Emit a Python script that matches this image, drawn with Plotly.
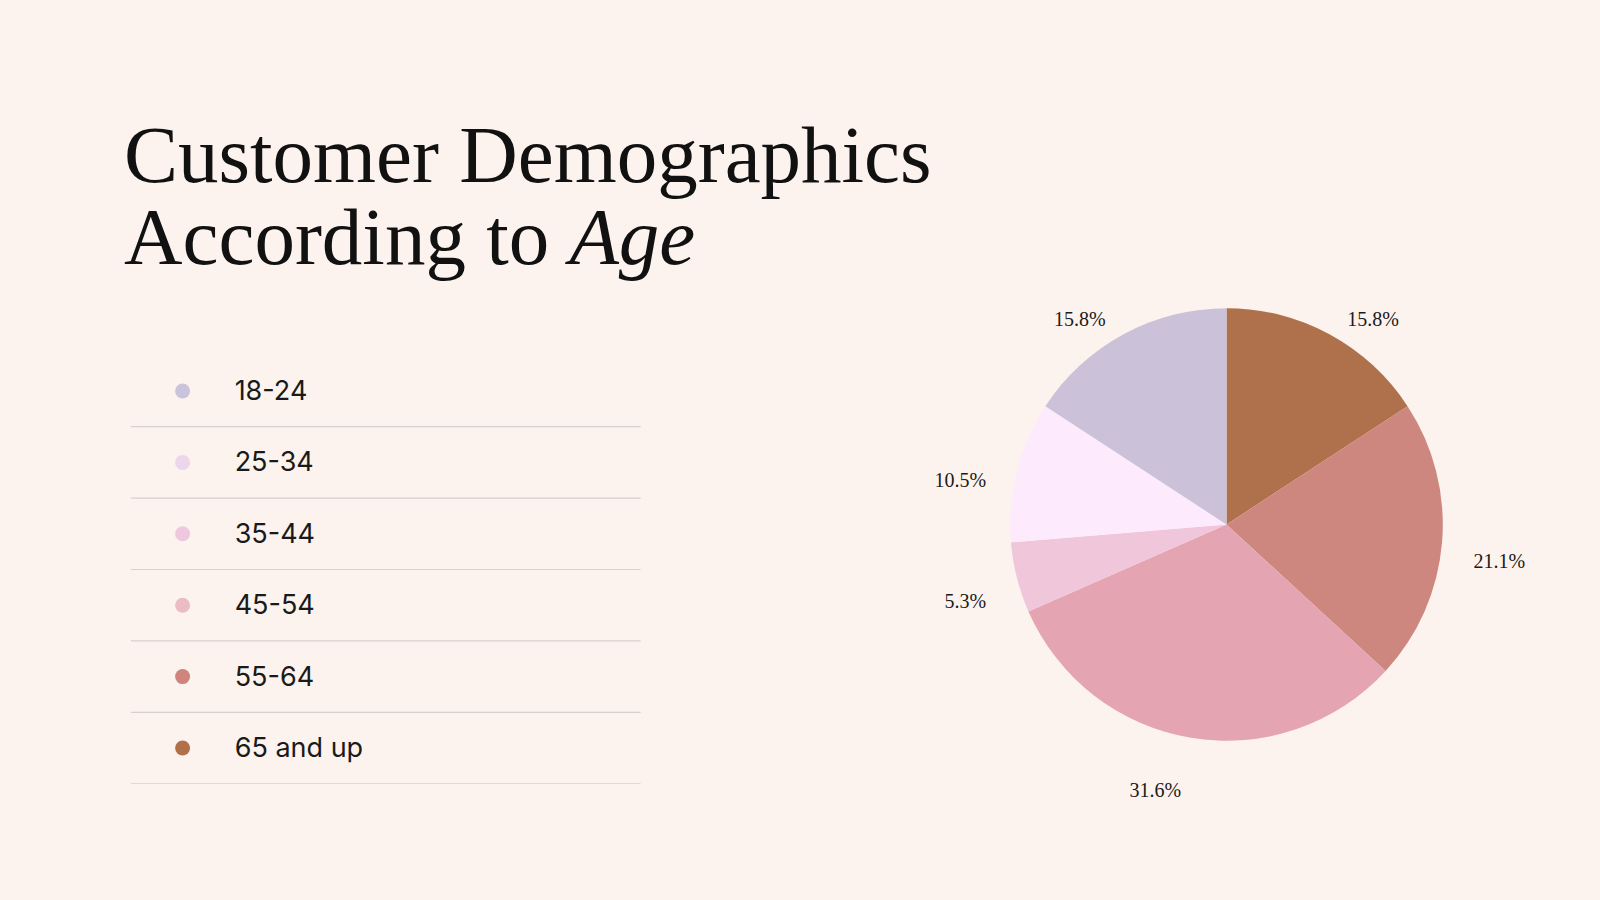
import plotly.graph_objects as go

# ---- data ----
age_groups = ["18-24", "25-34", "35-44", "45-54", "55-64", "65 and up"]
customers = [3, 2, 1, 6, 4, 3]
pie_colors = ["#CBC1D8", "#FDEAFD", "#F0C6DA", "#E4A4B1", "#CD877F", "#AE714C"]
dot_colors = ["#C9C3DC", "#EBD6EC", "#EFC8DF", "#EBBCC3", "#CF857D", "#B0704A"]

BG = "#FDF3EE"
W, H = 1600, 900

# pie geometry (pixels)
CX, CY, R = 1226.5, 524.5, 216.3
R_LABEL = R + 26      # transparent label ring radius
LABEL_DY = 16         # label ring sits slightly lower


def dom(cx, cy, r):
    return dict(x=[(cx - r) / W, (cx + r) / W],
                y=[(H - cy - r) / H, (H - cy + r) / H])


fig = go.Figure()

# Pie: drawn clockwise from 12 o'clock starting with the last group,
# so that the first group sits counter-clockwise from 12 o'clock.
fig.add_trace(go.Pie(
    labels=age_groups[::-1],
    values=customers[::-1],
    sort=False,
    direction="clockwise",
    rotation=0,
    marker=dict(colors=pie_colors[::-1], line=dict(width=0)),
    textinfo="none",
    showlegend=False,
    hoverinfo="label+percent",
    domain=dom(CX, CY, R),
))

# Transparent ring with the same data, used only to place the percentage labels a bit further out
fig.add_trace(go.Pie(
    labels=age_groups[::-1],
    values=customers[::-1],
    sort=False,
    direction="clockwise",
    rotation=0,
    marker=dict(colors=["rgba(0,0,0,0)"] * len(age_groups), line=dict(width=0)),
    texttemplate="%{percent:.1%}",
    textposition="outside",
    outsidetextfont=dict(family="Liberation Serif", size=20, color="#1a1a1a"),
    showlegend=False,
    hoverinfo="skip",
    domain=dom(CX, CY + LABEL_DY, R_LABEL),
))

# Custom legend list (dots + labels) on a hidden axis
rows = list(range(len(age_groups)))
fig.add_trace(go.Scatter(
    x=[0.102] * len(age_groups),
    y=[r + 0.5 for r in rows],
    mode="markers",
    marker=dict(size=15, color=dot_colors, line=dict(width=0)),
    showlegend=False,
    hoverinfo="skip",
    xaxis="x", yaxis="y",
))
fig.add_trace(go.Scatter(
    x=[0.204] * len(age_groups),
    y=[r + 0.53 for r in rows],
    mode="text",
    text=age_groups,
    textposition="middle right",
    textfont=dict(family="Inter", size=27, color="#1a1a1a"),
    showlegend=False,
    hoverinfo="skip",
    xaxis="x", yaxis="y",
))

shapes = []
for r in rows:
    shapes.append(dict(
        type="line", xref="x", yref="y",
        x0=0, x1=1, y0=r + 1, y1=r + 1,
        line=dict(color="#D6D0CE", width=1.2),
    ))

fig.update_layout(
    width=W, height=H,
    paper_bgcolor=BG, plot_bgcolor=BG,
    margin=dict(l=0, r=0, t=0, b=0),
    xaxis=dict(domain=[0.0816, 0.4005], range=[0, 1], visible=False, fixedrange=True),
    yaxis=dict(domain=[0.1292, 0.6052], range=[len(age_groups), 0], visible=False, fixedrange=True),
    shapes=shapes,
    annotations=[
        dict(
            text="Customer Demographics",
            xref="paper", yref="paper", x=122 / W, y=1 - 202 / H,
            xanchor="left", yanchor="bottom", showarrow=False,
            font=dict(family="Liberation Serif", size=81, color="#111111"),
        ),
        dict(
            text="According to <i>Age</i>",
            xref="paper", yref="paper", x=122 / W, y=1 - 284 / H,
            xanchor="left", yanchor="bottom", showarrow=False,
            font=dict(family="Liberation Serif", size=81, color="#111111"),
        ),
    ],
)

fig.write_html("out.html", config={"displayModeBar": False},
               post_script="document.body.style.margin='0';")
